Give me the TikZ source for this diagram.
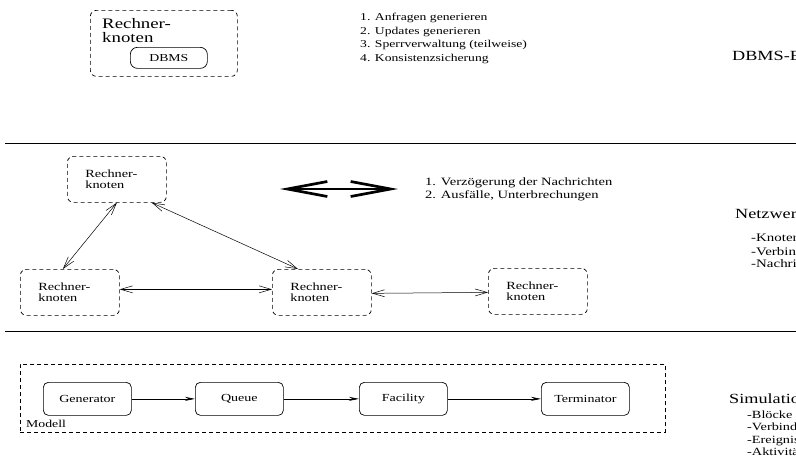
\documentclass[tikz,border=0pt]{standalone}
\usepackage{fontspec}
\setmainfont{Liberation Serif}[FakeStretch=1.3]
\usetikzlibrary{arrows.meta,calc}
\begin{document}
\begin{tikzpicture}[x=1pt,y=-1pt,
  txt/.style={anchor=base west,inner sep=0pt,font=\fontsize{10.5}{12}\selectfont},
  ntxt/.style={anchor=base west,inner sep=0pt,font=\fontsize{11.2}{13}\selectfont},
  sub/.style={anchor=base west,inner sep=0pt,font=\fontsize{11}{13}\selectfont},
  nsub/.style={anchor=base west,inner sep=0pt,font=\fontsize{11.5}{13}\selectfont},
  head/.style={anchor=base west,inner sep=0pt,font=\fontsize{14}{16}\selectfont},
  dashline/.style={dash pattern=on 4pt off 3pt,line width=0.7pt},
  rk/.style={draw,dashline,rounded corners=6pt,
     minimum width=99pt,minimum height=46pt,text width=63pt,inner xsep=18pt,align=left,
     font=\fontsize{11}{11.5}\selectfont,anchor=north west},
  blk/.style={draw,rounded corners=5pt,line width=0.7pt,minimum width=88pt,
     minimum height=33pt,inner sep=0pt,font=\fontsize{10.8}{12}\selectfont,anchor=north west},
  link/.style={line width=0.5pt,
     {Straight Barb[length=12pt,width=7pt]}-{Straight Barb[length=12pt,width=7pt]}},
  flow/.style={line width=0.6pt,-{Stealth[length=10pt,width=4pt]}},
  sepline/.style={line width=0.8pt}
]
\useasboundingbox (0,0) rectangle (796,461);
\clip (0,0) rectangle (796,461);

% ---------- DBMS level ----------
\node[draw,dashline,rounded corners=6pt,
      minimum width=147pt,minimum height=66pt,inner sep=0pt,anchor=north west]
      (host) at (90,10) {};
\node[anchor=base west,inner sep=0pt,font=\fontsize{14.5}{14}\selectfont]
      (hostl1) at (102,28.3) {Rechner-};
\node[anchor=base west,inner sep=0pt,font=\fontsize{14.5}{14}\selectfont]
      (hostl2) at (102,42.3) {knoten};
\node[draw,rounded corners=7pt,line width=0.7pt,minimum width=77pt,minimum height=21pt,
      inner sep=0pt,font=\fontsize{10.6}{12}\selectfont,anchor=north west]
      (dbms) at (130,47) {DBMS};
\node[txt] (d1) at (360,20.5) {1. Anfragen generieren};
\node[txt] (d2) at (360,34) {2. Updates generieren};
\node[txt] (d3) at (360,47.5) {3. Sperrverwaltung (teilweise)};
\node[txt] (d4) at (360,61) {4. Konsistenzsicherung};
\node[head] (dbmsebene) at (732,60) {DBMS-Ebene};

\draw[sepline] (5,143) -- (796,143);

% ---------- network level ----------
\node[rk] (T) at (67,156) {Rechner-\\knoten};
\node[rk] (L) at (20,269) {Rechner-\\knoten};
\node[rk] (M) at (272,269) {Rechner-\\knoten};
\node[rk] (R) at (488,268) {Rechner-\\knoten};

\draw[link] ($(L.north west)!0.43!(L.north east)$) -- (T.south);
\draw[link] ($(T.south west)!0.85!(T.south east)$) -- ($(M.north west)!0.26!(M.north east)$);
\draw[link] ([yshift=3pt]L.east) -- ([yshift=3pt]M.west);
\draw[link] ([yshift=-1pt]M.east) -- ([yshift=-1pt]R.west);

\coordinate (bigl) at (280,189);
\coordinate (bigr) at (398,189);
\draw[line width=2.7pt,
      {Straight Barb[length=40pt,width=15pt]}-{Straight Barb[length=40pt,width=15pt]}]
      (bigl) -- (bigr);

\node[ntxt] (n1) at (425,185) {1. Verzögerung der Nachrichten};
\node[ntxt] (n2) at (425,198) {2. Ausfälle, Unterbrechungen};

\node[head] (netz) at (735,218.3) {Netzwerkebene};
\node[nsub] (k1) at (751,241.7) {-Knoten};
\node[nsub] (k2) at (751,255) {-Verbindungen};
\node[nsub] (k3) at (751,267.7) {-Nachrichten};

\draw[sepline] (5,331) -- (796,331);

% ---------- simulation level ----------
\node[draw,dashline,minimum width=645pt,
      minimum height=68pt,inner sep=0pt,anchor=north west] (modell) at (20,364) {};
\node[anchor=base west,inner sep=0pt,font=\fontsize{10.6}{12}\selectfont]
      (modlbl) at (26,427) {Modell};

\node[blk] (gen) at (43,382) {Generator};
\node[blk] (que) at (195,382) {Queue};
\node[blk] (fac) at (359,382) {Facility};
\node[blk] (ter) at (541,382) {Terminator};

\draw[flow] (gen) -- (que);
\draw[flow] (que) -- (fac);
\draw[flow] (fac) -- (ter);

\node[head] (sim) at (729,403) {Simulationsebene};
\node[sub] (s1) at (747,418) {-Blöcke};
\node[sub] (s2) at (747,430.5) {-Verbindungen};
\node[sub] (s3) at (747,443) {-Ereignisse};
\node[sub] (s4) at (747,455.5) {-Aktivitäten};
\end{tikzpicture}
\end{document}
